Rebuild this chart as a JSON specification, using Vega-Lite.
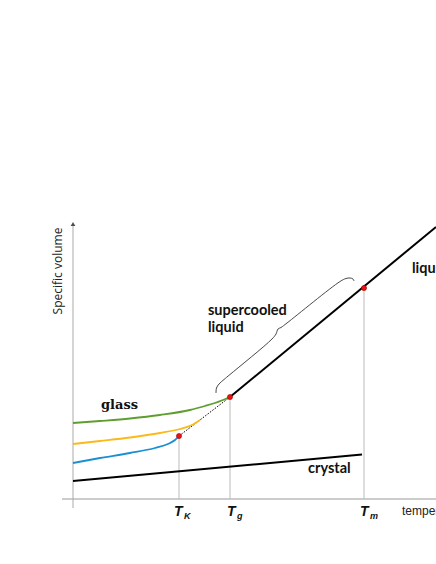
{
  "$schema": "https://vega.github.io/schema/vega-lite/v6.json",
  "width": 436,
  "height": 564,
  "autosize": {"type": "none"},
  "padding": 0,
  "background": "white",
  "config": {"view": {"stroke": null}},
  "encoding": {
    "x": {"field": "x", "type": "quantitative", "scale": {"domain": [-73, 363], "nice": false, "zero": false}, "axis": null},
    "y": {"field": "y", "type": "quantitative", "scale": {"domain": [-65, 499], "nice": false, "zero": false}, "axis": null}
  },
  "layer": [
    {
      "data": {"values": [
        {"x": -11, "y": 0, "x2": 363, "y2": 0}
      ]},
      "mark": {"type": "rule", "stroke": "#cccccc", "strokeWidth": 2},
      "encoding": {"x2": {"field": "x2"}, "y2": {"field": "y2"}}
    },
    {
      "data": {"values": [
        {"x": 0, "y": -9, "x2": 0, "y2": 273}
      ]},
      "mark": {"type": "rule", "stroke": "#aaaaaa", "strokeWidth": 1},
      "encoding": {"x2": {"field": "x2"}, "y2": {"field": "y2"}}
    },
    {
      "data": {"values": [{"x": 0, "y": 275}]},
      "mark": {"type": "point", "shape": "triangle-up", "filled": true, "fill": "black", "stroke": null, "size": 22}
    },
    {
      "data": {"values": [
        {"x": 106, "y": 0, "x2": 106, "y2": 63},
        {"x": 157, "y": 0, "x2": 157, "y2": 102},
        {"x": 291, "y": 0, "x2": 291, "y2": 211}
      ]},
      "mark": {"type": "rule", "stroke": "#bbbbbb", "strokeWidth": 1},
      "encoding": {"x2": {"field": "x2"}, "y2": {"field": "y2"}}
    },
    {
      "data": {"values": [
        {"x": 0, "y": 18},
        {"x": 289, "y": 44.5}
      ]},
      "mark": {"type": "line", "stroke": "black", "strokeWidth": 2},
      "encoding": {}
    },
    {
      "data": {"values": [
        {"x": 106, "y": 63},
        {"x": 157, "y": 102}
      ]},
      "mark": {"type": "line", "stroke": "black", "strokeWidth": 1, "strokeDash": [1.5, 1.5]},
      "encoding": {}
    },
    {
      "data": {"values": [
        {"series": "glass", "x": 0, "y": 76},
        {"series": "glass", "x": 27, "y": 78},
        {"series": "glass", "x": 57, "y": 80.5},
        {"series": "glass", "x": 87, "y": 84},
        {"series": "glass", "x": 117, "y": 89},
        {"series": "glass", "x": 132, "y": 93},
        {"series": "glass", "x": 142, "y": 96},
        {"series": "glass", "x": 150, "y": 99},
        {"series": "glass", "x": 157, "y": 102},
        {"series": "middle", "x": 0, "y": 55},
        {"series": "middle", "x": 27, "y": 58},
        {"series": "middle", "x": 57, "y": 61.5},
        {"series": "middle", "x": 87, "y": 66},
        {"series": "middle", "x": 107, "y": 70},
        {"series": "middle", "x": 119, "y": 74},
        {"series": "middle", "x": 127, "y": 79},
        {"series": "low", "x": 0, "y": 36},
        {"series": "low", "x": 27, "y": 41},
        {"series": "low", "x": 57, "y": 46},
        {"series": "low", "x": 82, "y": 51},
        {"series": "low", "x": 95, "y": 55},
        {"series": "low", "x": 102, "y": 59},
        {"series": "low", "x": 106, "y": 63}
      ]},
      "mark": {"type": "line", "strokeWidth": 1.8, "interpolate": "monotone"},
      "encoding": {
        "color": {"field": "series", "type": "nominal", "scale": {"domain": ["glass", "middle", "low"], "range": ["#5e9e2e", "#fbb91a", "#1b8ed6"]}, "legend": null}
      }
    },
    {
      "data": {"values": [
        {"x": 157, "y": 102},
        {"x": 363, "y": 272}
      ]},
      "mark": {"type": "line", "stroke": "black", "strokeWidth": 2},
      "encoding": {}
    },
    {
      "data": {"values": [
        {"i": 1, "x": 143, "y": 106},
        {"i": 2, "x": 143.5, "y": 111},
        {"i": 3, "x": 146, "y": 115},
        {"i": 4, "x": 151, "y": 119.5},
        {"i": 5, "x": 157, "y": 124.5},
        {"i": 6, "x": 199, "y": 160},
        {"i": 7, "x": 203, "y": 165},
        {"i": 8, "x": 205, "y": 170},
        {"i": 9, "x": 208, "y": 171.5},
        {"i": 10, "x": 214, "y": 176},
        {"i": 11, "x": 267, "y": 217.5},
        {"i": 12, "x": 273, "y": 220.5},
        {"i": 13, "x": 277, "y": 221},
        {"i": 14, "x": 280, "y": 220},
        {"i": 15, "x": 281, "y": 218}
      ]},
      "mark": {"type": "line", "stroke": "#333333", "strokeWidth": 0.9, "interpolate": "catmull-rom"},
      "encoding": {"order": {"field": "i", "type": "quantitative"}}
    },
    {
      "data": {"values": [
        {"x": 106, "y": 63},
        {"x": 157, "y": 102},
        {"x": 291, "y": 211}
      ]},
      "mark": {"type": "point", "shape": "circle", "filled": true, "fill": "#ee1111", "stroke": "#990000", "strokeWidth": 0.6, "size": 26, "opacity": 1}
    },
    {
      "data": {"values": [{"x": 28, "y": 90, "label": "glass"}]},
      "mark": {"type": "text", "font": "DejaVu Serif", "fontWeight": "bold", "fontSize": 13, "align": "left", "baseline": "alphabetic", "fill": "#111111"},
      "encoding": {"text": {"field": "label"}}
    },
    {
      "data": {"values": [
        {"x": 135, "y": 184, "label": "supercooled"},
        {"x": 135, "y": 167, "label": "liquid"},
        {"x": 235, "y": 26, "label": "crystal"},
        {"x": 339, "y": 226, "label": "liquid"}
      ]},
      "mark": {"type": "text", "font": "Lato", "fontWeight": "bold", "fontSize": 14.5, "align": "left", "baseline": "alphabetic", "fill": "#111111"},
      "encoding": {"text": {"field": "label"}}
    },
    {
      "data": {"values": [{"x": -11, "y": 228, "label": "Specific volume"}]},
      "mark": {"type": "text", "font": "Open Sans", "fontSize": 12, "angle": 270, "align": "center", "baseline": "alphabetic", "fill": "#222222"},
      "encoding": {"text": {"field": "label"}}
    },
    {
      "data": {"values": [{"x": 329, "y": -16, "label": "temperature"}]},
      "mark": {"type": "text", "font": "Liberation Sans", "fontSize": 12, "align": "left", "baseline": "alphabetic", "fill": "#222222"},
      "encoding": {"text": {"field": "label"}}
    },
    {
      "data": {"values": [
        {"x": 101, "y": -17, "label": "T"},
        {"x": 154, "y": -17, "label": "T"},
        {"x": 287, "y": -17, "label": "T"}
      ]},
      "mark": {"type": "text", "font": "Liberation Sans", "fontWeight": "bold", "fontStyle": "italic", "fontSize": 14, "align": "left", "baseline": "alphabetic", "fill": "#111111"},
      "encoding": {"text": {"field": "label"}}
    },
    {
      "data": {"values": [
        {"x": 111, "y": -20, "label": "K"},
        {"x": 164, "y": -20, "label": "g"},
        {"x": 297, "y": -20, "label": "m"}
      ]},
      "mark": {"type": "text", "font": "Liberation Sans", "fontWeight": "bold", "fontStyle": "italic", "fontSize": 9, "align": "left", "baseline": "alphabetic", "fill": "#111111"},
      "encoding": {"text": {"field": "label"}}
    }
  ]
}
